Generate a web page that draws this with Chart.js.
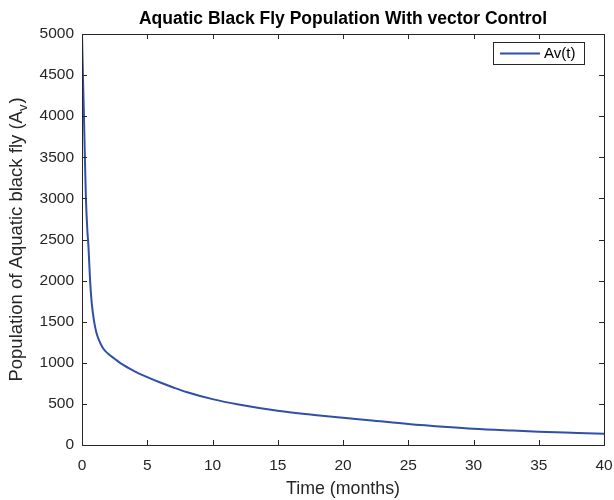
<!DOCTYPE html>
<html>
<head>
<meta charset="utf-8">
<script src="https://cdn.jsdelivr.net/npm/chart.js@4.4.1/dist/chart.umd.min.js"></script>
<style>
  body { margin: 0; background: #fff; }
  #wrap { width: 614px; height: 500px; }
</style>
</head>
<body>
<div id="wrap"><canvas id="avChart" width="614" height="500"></canvas></div>
<script>
// values
const timeMonths = [0, 0.07, 0.15, 0.22, 0.3, 0.41, 0.5, 0.62, 0.75, 0.93, 1.1, 1.32, 1.6, 2, 2.5, 3, 4, 5, 6, 7, 8, 10, 12, 15, 18, 20, 22, 25, 28, 30, 33, 35, 38, 40];
const avValues = [5000, 4500, 4000, 3500, 3000, 2610, 2400, 2000, 1720, 1500, 1370, 1270, 1180, 1110, 1050, 990, 900, 826, 760, 700, 645, 558, 492, 416, 362, 331, 302, 255, 218, 197, 175, 162, 147, 137];
const xTicks = [0, 5, 10, 15, 20, 25, 30, 35, 40];
const yTicks = [0, 500, 1000, 1500, 2000, 2500, 3000, 3500, 4000, 4500, 5000];
const seriesLabel = 'Av(t)';
const chartTitle = 'Aquatic Black Fly Population With vector Control';

const FONT = '"Liberation Sans", Arial, Helvetica, sans-serif';
const AXIS_COLOR = '#262626';
const LINE_COLOR = '#2f4fa8';

// MATLAB-ish box: inward ticks on all four sides, title, y label with subscript, legend
const matlabBox = {
    id: 'matlabBox',
    afterDraw(chart) {
        const ctx = chart.ctx;
        const a = chart.chartArea;
        const xs = chart.scales.x, ys = chart.scales.y;
        ctx.save();
        ctx.strokeStyle = AXIS_COLOR;
        ctx.lineWidth = 1;
        ctx.strokeRect(a.left + 0.5, a.top + 0.5, a.right - a.left, a.bottom - a.top);
        const tl = 5;
        ctx.beginPath();
        xTicks.forEach(v => {
            const px = Math.round(xs.getPixelForValue(v)) + 0.5;
            ctx.moveTo(px, a.bottom); ctx.lineTo(px, a.bottom - tl);
            ctx.moveTo(px, a.top); ctx.lineTo(px, a.top + tl);
        });
        yTicks.forEach(v => {
            const py = Math.round(ys.getPixelForValue(v)) + 0.5;
            ctx.moveTo(a.left, py); ctx.lineTo(a.left + tl, py);
            ctx.moveTo(a.right, py); ctx.lineTo(a.right - tl, py);
        });
        ctx.stroke();

        // title
        ctx.fillStyle = '#000';
        ctx.font = 'bold 17.5px ' + FONT;
        ctx.textAlign = 'center';
        ctx.textBaseline = 'middle';
        ctx.fillText(chartTitle, (a.left + a.right) / 2, 19);

        // y axis label with subscript v
        ctx.fillStyle = AXIS_COLOR;
        ctx.translate(17, (a.top + a.bottom) / 2);
        ctx.rotate(-Math.PI / 2);
        const main = 'Population of Aquatic black fly (A';
        const big = '18.5px ' + FONT, small = '13px ' + FONT;
        ctx.font = big;
        const w1 = ctx.measureText(main).width;
        ctx.font = small;
        const w2 = ctx.measureText('v').width + 1;
        ctx.font = big;
        const w3 = ctx.measureText(')').width;
        let x0 = -(w1 + w2 + w3) / 2;
        ctx.textAlign = 'left';
        ctx.fillText(main, x0, 0);
        ctx.font = small;
        ctx.fillText('v', x0 + w1, 6);
        ctx.font = big;
        ctx.fillText(')', x0 + w1 + w2, 0);
        ctx.restore();

        // legend box
        ctx.save();
        const bx = a.right - 111, by = a.top + 8, bw = 91, bh = 22;
        ctx.fillStyle = '#fff';
        ctx.fillRect(bx, by, bw, bh);
        ctx.strokeStyle = AXIS_COLOR;
        ctx.lineWidth = 1;
        ctx.strokeRect(bx + 0.5, by + 0.5, bw, bh);
        ctx.strokeStyle = LINE_COLOR;
        ctx.lineWidth = 2;
        ctx.beginPath();
        ctx.moveTo(bx + 7, by + bh / 2 + 0.5);
        ctx.lineTo(bx + 47, by + bh / 2 + 0.5);
        ctx.stroke();
        ctx.fillStyle = '#000';
        ctx.font = '15px ' + FONT;
        ctx.textAlign = 'left';
        ctx.textBaseline = 'middle';
        ctx.fillText(chart.data.datasets[0].label, bx + 51, by + bh / 2 + 1);
        ctx.restore();
    }
};

new Chart(document.getElementById('avChart').getContext('2d'), {
    type: 'line',
    data: {
        datasets: [{
            label: seriesLabel,
            data: timeMonths.map((t, i) => ({ x: t, y: avValues[i] })),
            borderColor: LINE_COLOR,
            borderWidth: 2,
            pointRadius: 0,
            cubicInterpolationMode: 'monotone',
            fill: false
        }]
    },
    options: {
        responsive: false,
        animation: false,
        layout: { padding: { top: 34, right: 10, left: 0, bottom: 0 } },
        plugins: { legend: { display: false }, title: { display: false }, tooltip: { enabled: false } },
        scales: {
            x: {
                type: 'linear', min: 0, max: 40,
                afterBuildTicks: s => { s.ticks = xTicks.map(v => ({ value: v })); },
                afterFit: s => { s.height = 55; s.paddingLeft = 0; s.paddingRight = 0; },
                grid: { display: false, drawTicks: false },
                border: { display: false },
                ticks: { color: AXIS_COLOR, font: { family: FONT, size: 15.5 }, padding: 11, maxRotation: 0, callback: v => String(v) },
                title: { display: true, text: 'Time (months)', color: AXIS_COLOR, font: { family: FONT, size: 17.8 }, padding: { top: 0, bottom: 0 } }
            },
            y: {
                type: 'linear', min: 0, max: 5000,
                afterBuildTicks: s => { s.ticks = yTicks.map(v => ({ value: v })); },
                afterFit: s => { s.width = 82; s.paddingTop = 0; s.paddingBottom = 0; },
                grid: { display: false, drawTicks: false },
                border: { display: false },
                ticks: { color: AXIS_COLOR, font: { family: FONT, size: 15.5 }, padding: 8, callback: v => String(v) }
            }
        }
    },
    plugins: [matlabBox]
});
</script>
</body>
</html>
